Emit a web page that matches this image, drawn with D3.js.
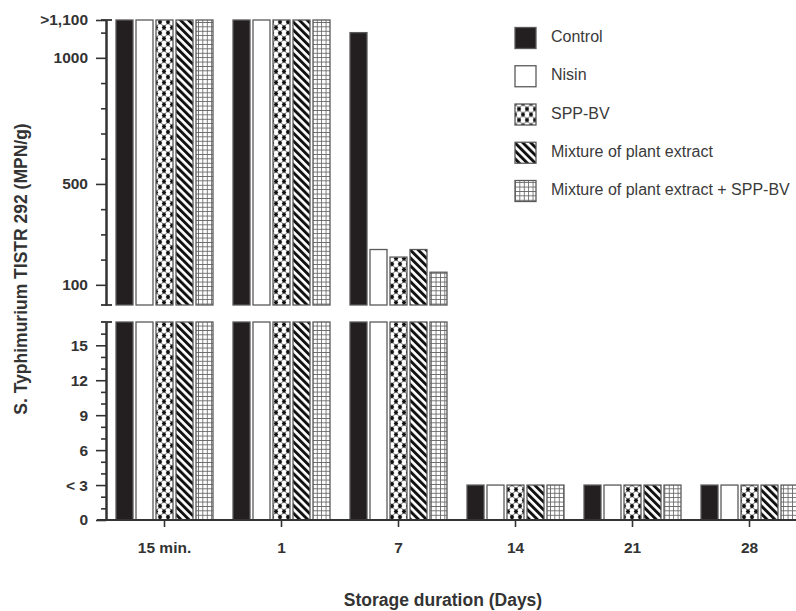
<!DOCTYPE html>
<html>
<head>
<meta charset="utf-8">
<script src="https://cdn.jsdelivr.net/npm/d3@7"></script>
<style>
  html, body { margin: 0; padding: 0; background: #fff; }
  svg { display: block; font-family: "Liberation Sans", Arial, Helvetica, sans-serif; }
</style>
</head>
<body>
<svg id="chart" width="796" height="611"></svg>
<script>
// ---- data ----
const categories = ["15 min.", "1", "7", "14", "21", "28"];
const seriesNames = ["Control", "Nisin", "SPP-BV", "Mixture of plant extract", "Mixture of plant extract + SPP-BV"];
// MPN/g ; 1150 stands for ">1,100"
const controlValues = [1150, 1150, 1100, 3, 3, 3];
const nisinValues   = [1150, 1150, 240, 3, 3, 3];
const sppbvValues   = [1150, 1150, 210, 3, 3, 3];
const mixtureValues = [1150, 1150, 240, 3, 3, 3];
const mixSppValues  = [1150, 1150, 150, 3, 3, 3];
const upperMajorTicks = [100, 500, 1000, 1150];
const upperMinorTicks = [200, 300, 400, 600, 700, 800, 900, 1100];
const lowerMajorTicks = [0, 3, 6, 9, 12, 15];
const lowerMinorTicks = [1, 2, 4, 5, 7, 8, 10, 11, 13, 14, 16];

const seriesValues = [controlValues, nisinValues, sppbvValues, mixtureValues, mixSppValues];
const fills = ["#231f20", "#ffffff", "url(#pSpp)", "url(#pStripe)", "url(#pGrid)"];

const svg = d3.select("#chart");
const textColor = "#333";

// ---- patterns ----
const defs = svg.append("defs");
const pSpp = defs.append("pattern").attr("id", "pSpp").attr("patternUnits", "userSpaceOnUse")
  .attr("width", 8).attr("height", 11);
pSpp.append("rect").attr("width", 8).attr("height", 11).attr("fill", "#fff");
pSpp.append("path").attr("d", "M0,0L8,11M8,0L0,11").attr("stroke", "#111").attr("stroke-width", 0.6);
[[0,0],[8,0],[0,11],[8,11],[4,5.5]].forEach(([cx, cy]) => {
  pSpp.append("path").attr("d", `M${cx},${cy-2.8}L${cx+2.3},${cy}L${cx},${cy+2.8}L${cx-2.3},${cy}Z`).attr("fill", "#111");
});

const pStripe = defs.append("pattern").attr("id", "pStripe").attr("patternUnits", "userSpaceOnUse")
  .attr("width", 5.6).attr("height", 10).attr("patternTransform", "rotate(-45)");
pStripe.append("rect").attr("width", 5.6).attr("height", 10).attr("fill", "#fff");
pStripe.append("rect").attr("width", 2.9).attr("height", 10).attr("fill", "#111");

const pGrid = defs.append("pattern").attr("id", "pGrid").attr("patternUnits", "userSpaceOnUse")
  .attr("width", 4.4).attr("height", 4.4);
pGrid.append("rect").attr("width", 4.4).attr("height", 4.4).attr("fill", "#fff");
pGrid.append("path").attr("d", "M0,0.4H4.4M0.4,0V4.4").attr("stroke", "#666").attr("stroke-width", 0.9);

// ---- scales ----
const x0 = d3.scaleBand().domain(categories).range([106, 808]).padding(0);
const x1 = d3.scaleBand().domain(seriesNames).range([10, 107]).paddingInner(0.15);
const yUp = d3.scaleLinear().domain([20, 1150]).range([305, 20]);
const yLo = d3.scaleLinear().domain([0, 17]).range([520, 322]);

// ---- bars ----
const cells = [];
seriesNames.forEach((s, si) => categories.forEach((c, ci) => cells.push({ s, si, c, v: seriesValues[si][ci] })));

const barG = svg.append("g");
const barX = d => x0(d.c) + x1(d.s);
// lower panel
barG.selectAll("rect.lo").data(cells).join("rect").attr("class", "lo")
  .attr("x", barX).attr("width", x1.bandwidth())
  .attr("y", d => yLo(Math.min(d.v, 17)))
  .attr("height", d => yLo(0) - yLo(Math.min(d.v, 17)))
  .attr("fill", d => fills[d.si]).attr("stroke", "#5a5a5a").attr("stroke-width", 1.3);
// upper panel
barG.selectAll("rect.up").data(cells.filter(d => d.v > 17)).join("rect").attr("class", "up")
  .attr("x", barX).attr("width", x1.bandwidth())
  .attr("y", d => yUp(d.v))
  .attr("height", d => yUp(20) - yUp(d.v))
  .attr("fill", d => fills[d.si]).attr("stroke", "#5a5a5a").attr("stroke-width", 1.3);

// ---- axes ----
function styleAxis(g, size) {
  g.selectAll("path.domain").attr("stroke", textColor).attr("stroke-width", 2);
  g.selectAll(".tick line").attr("stroke", textColor).attr("stroke-width", 1.6);
  g.selectAll(".tick text").attr("fill", textColor).attr("font-size", size || 15.5).attr("font-weight", "bold")
    .attr("font-family", "'Liberation Sans', Arial, sans-serif");
}
const upMajor = svg.append("g").attr("transform", "translate(106,0)")
  .call(d3.axisLeft(yUp).tickValues(upperMajorTicks).tickSize(10).tickSizeOuter(0).tickPadding(8)
    .tickFormat(d => d === 1150 ? ">1,100" : d3.format("d")(d)));
styleAxis(upMajor);
const upMinor = svg.append("g").attr("transform", "translate(106,0)")
  .call(d3.axisLeft(yUp).tickValues(upperMinorTicks).tickSize(5).tickSizeOuter(0).tickFormat(""));
styleAxis(upMinor);

const loMajor = svg.append("g").attr("transform", "translate(106,0)")
  .call(d3.axisLeft(yLo).tickValues(lowerMajorTicks).tickSize(10).tickSizeOuter(0).tickPadding(8)
    .tickFormat(d => d === 3 ? "< 3" : d));
styleAxis(loMajor);
const loMinor = svg.append("g").attr("transform", "translate(106,0)")
  .call(d3.axisLeft(yLo).tickValues(lowerMinorTicks).tickSize(5).tickSizeOuter(0).tickFormat(""));
styleAxis(loMinor);

// break caps
const caps = svg.append("g").attr("stroke", textColor).attr("stroke-width", 1.8);
[yUp(1150), yUp(20), yLo(17)].forEach(y => {
  caps.append("line").attr("x1", 101).attr("x2", 112).attr("y1", y).attr("y2", y);
});

// x axis
const xAxis = svg.append("g").attr("transform", `translate(0,${yLo(0)})`)
  .call(d3.axisBottom(x0).tickSize(7).tickSizeOuter(0).tickPadding(15));
xAxis.select("path.domain").remove();
styleAxis(xAxis, 15.5);
xAxis.append("line").attr("x1", 97).attr("x2", 808).attr("y1", 0).attr("y2", 0)
  .attr("stroke", textColor).attr("stroke-width", 2);

// axis titles
svg.append("text").attr("transform", "translate(22,269) rotate(-90)")
  .attr("text-anchor", "middle").attr("dominant-baseline", "middle")
  .attr("font-size", 17.5).attr("font-weight", "bold").attr("fill", textColor)
  .text("S. Typhimurium TISTR 292 (MPN/g)");
svg.append("text").attr("x", 443).attr("y", 606)
  .attr("text-anchor", "middle")
  .attr("font-size", 17.5).attr("font-weight", "bold").attr("fill", textColor)
  .text("Storage duration (Days)");

// ---- legend ----
const ly = d3.scalePoint().domain(seriesNames).range([38, 191]);
const leg = svg.append("g");
const items = leg.selectAll("g").data(seriesNames).join("g")
  .attr("transform", d => `translate(515,${ly(d)})`);
items.append("rect").attr("x", 0).attr("y", -10.5).attr("width", 21).attr("height", 21)
  .attr("fill", (d, i) => fills[i]).attr("stroke", "#5a5a5a").attr("stroke-width", 1.3);
items.append("text").attr("x", 36).attr("y", 0).attr("dominant-baseline", "middle")
  .attr("font-size", 16).attr("fill", "#3a3a3a").text(d => d);
</script>
</body>
</html>
